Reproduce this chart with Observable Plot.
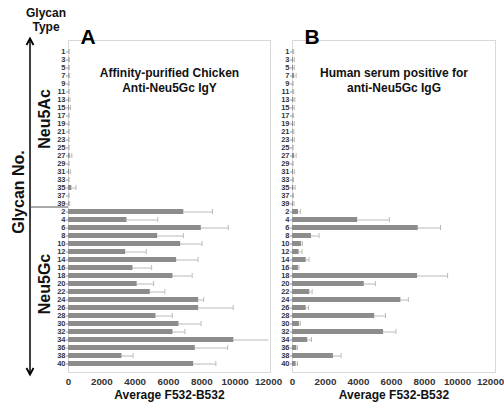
<!DOCTYPE html>
<html><head><meta charset="utf-8">
<script src="https://cdn.jsdelivr.net/npm/d3@7"></script>
<script src="https://cdn.jsdelivr.net/npm/@observablehq/plot@0.6"></script>
<style>
body{margin:0;background:#fff;}
#wrap{position:relative;width:504px;height:410px;overflow:hidden;font-family:"Liberation Sans",Arial,sans-serif;}
#wrap > *{position:absolute;top:0;}
</style></head><body><div id="wrap"></div>
<script>
// Category labels
const neu5acIds = ["1","3","5","7","9","11","13","15","17","19","21","23","25","27","29","31","33","35","37","39"];
const neu5gcIds = ["2","4","6","8","10","12","14","16","18","20","22","24","26","28","30","32","34","36","38","40"];
const xTicks = [0, 2000, 4000, 6000, 8000, 10000, 12000];

// Panel A: Affinity-purified Chicken Anti-Neu5Gc IgY
const chickenAcMean = [20,30,30,40,20,20,50,60,20,20,20,20,20,100,20,60,20,200,20,40];
const chickenAcSD   = [20,20,20,30,20,20,40,60,20,20,20,20,20,100,20,50,20,250,20,30];
const chickenGcMean = [6920,3510,7970,5350,6730,3430,6490,3870,6270,4120,4910,7810,7810,5250,6630,6270,9920,7610,3210,7510];
const chickenGcSD   = [1720,1850,1620,1540,1280,1230,1280,1120,1150,990,870,300,2070,980,1320,710,2100,1940,660,1330];

// Panel B: Human serum positive for anti-Neu5Gc IgG
const humanAcMean = [30,60,60,120,20,30,80,50,30,60,40,60,20,120,20,60,30,80,30,50];
const humanAcSD   = [40,50,50,100,20,40,60,50,40,50,40,50,20,100,20,50,30,80,30,40];
const humanGcMean = [360,3950,7620,1150,540,400,830,360,7580,4350,1050,6570,830,4980,420,5520,920,260,2480,220];
const humanGcSD   = [120,1920,1350,460,60,180,170,30,1820,670,140,450,140,660,50,750,230,40,460,80];

const order = neu5acIds.concat(neu5gcIds);
function rows(acM, acS, gcM, gcS) {
  return neu5acIds.map((g, i) => ({glycan: g, mean: acM[i], sd: acS[i]}))
    .concat(neu5gcIds.map((g, i) => ({glycan: g, mean: gcM[i], sd: gcS[i]})));
}

const FONT = '"Liberation Sans", Arial, sans-serif';
function panel(data, title, letter, left, xEnd, mr) {
  const p = Plot.plot({
    width: 280, height: 410,
    marginLeft: 68, marginRight: mr, marginTop: 40, marginBottom: 38,
    style: {fontFamily: FONT, fontWeight: "bold", color: "#333", background: "transparent", overflow: "visible"},
    x: {domain: [0, 12000], range: [68, xEnd], label: null},
    y: {domain: order, range: [44, 370], padding: 0.38, label: null},
    marks: [
      Plot.frame({stroke: "#d9d9d9"}),
      Plot.axisX({ticks: xTicks, tickFormat: d => String(d), tickSize: 0, tickPadding: 6, fontSize: 9.8, fill: "#333", label: null}),
      Plot.axisY({tickSize: 2, tickPadding: 1, fontSize: 7.5, fill: "#333", stroke: "#999", label: null}),
      Plot.ruleY(data, {y: "glycan", x1: "mean", x2: d => Math.min(12100, d.mean + d.sd), stroke: "#b8b8b8", strokeWidth: 1}),
      Plot.tickX(data.filter(d => d.mean + d.sd <= 12000), {x: d => d.mean + d.sd, y: "glycan", stroke: "#b8b8b8", strokeWidth: 1}),
      Plot.barX(data, {x: "mean", y: "glycan", fill: "#8c8c8c"}),
      Plot.text([title], {frameAnchor: "top", dy: 25.5, fontSize: 12, fontWeight: "bold", lineHeight: 1.25, fill: "#111"}),
      Plot.text([letter], {frameAnchor: "top-left", dx: 12, dy: -11, fontSize: 21, fontWeight: "bold", fill: "#000"}),
      Plot.text(["Average F532-B532"], {frameAnchor: "bottom", dy: 26.5, fontSize: 12, fontWeight: "bold", fill: "#111"})
    ]
  });
  p.style.left = left + "px";
  return p;
}

const wrap = document.getElementById("wrap");
wrap.appendChild(panel(rows(chickenAcMean, chickenAcSD, chickenGcMean, chickenGcSD),
  "Affinity-purified Chicken\nAnti-Neu5Gc IgY", "A", 0, 268, 10));
wrap.appendChild(panel(rows(humanAcMean, humanAcSD, humanGcMean, humanGcSD),
  "Human serum positive for\nanti-Neu5Gc IgG", "B", 224, 266, 9));

// Left-side glycan-type annotation
const ns = "http://www.w3.org/2000/svg";
const ann = document.createElementNS(ns, "svg");
ann.setAttribute("width", 70); ann.setAttribute("height", 410);
ann.style.left = "0px";
ann.innerHTML = `
<g font-family='${FONT}' font-weight="bold" fill="#111">
  <text x="46" y="17" text-anchor="middle" font-size="12">Glycan</text>
  <text x="46" y="31" text-anchor="middle" font-size="12">Type</text>
  <text transform="translate(50,119) rotate(-90)" text-anchor="middle" font-size="16">Neu5Ac</text>
  <text transform="translate(50,284) rotate(-90)" text-anchor="middle" font-size="16">Neu5Gc</text>
  <text transform="translate(24,192) rotate(-90)" text-anchor="middle" font-size="16">Glycan No.</text>
</g>
<line x1="30" y1="39" x2="30" y2="374" stroke="#000" stroke-width="1.5"/>
<path d="M26.5,45 L30,38.5 L33.5,45" fill="none" stroke="#000" stroke-width="1.8"/>
<path d="M26.5,368 L30,374.5 L33.5,368" fill="none" stroke="#000" stroke-width="1.8"/>
<line x1="30" y1="207" x2="68" y2="207" stroke="#555" stroke-width="1"/>
`;
wrap.appendChild(ann);
</script>
</body></html>
